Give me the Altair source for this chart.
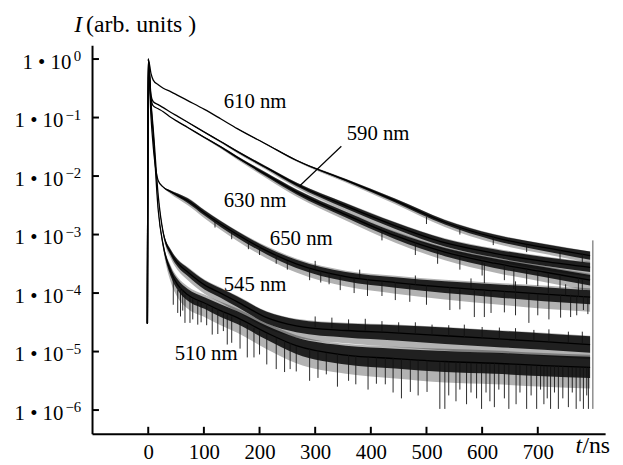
import altair as alt
import pandas as pd

# time knots (ns) shared by all traces
T = [-1.5, 0, 5, 9, 18, 27, 41, 53, 71, 101, 130, 160, 213, 266, 355, 444, 533, 622, 711, 794]

# centre of each trace, log10(I)
LOG_610 = [-4.52, 0, -0.25, -0.36, -0.44, -0.50, -0.56, -0.62, -0.71, -0.86, -1.02, -1.19, -1.46, -1.73, -2.07, -2.42, -2.79, -3.05, -3.22, -3.36]
LOG_590 = [-4.52, 0, -0.62, -0.73, -0.78, -0.83, -0.915, -0.98, -1.08, -1.25, -1.41, -1.58, -1.86, -2.14, -2.51, -2.85, -3.14, -3.32, -3.46, -3.56]
LOG_630 = [-4.52, 0, -0.68, -0.80, -0.85, -0.90, -1.00, -1.07, -1.17, -1.34, -1.50, -1.68, -1.98, -2.27, -2.66, -3.02, -3.30, -3.49, -3.64, -3.78]
LOG_650 = [-4.52, 0, -1.00, -1.50, -2.08, -2.19, -2.27, -2.33, -2.42, -2.63, -2.82, -3.00, -3.28, -3.50, -3.72, -3.82, -3.90, -3.96, -4.02, -4.07]
LOG_545 = [-4.52, 0, -0.75, -1.20, -2.34, -2.97, -3.32, -3.49, -3.64, -3.86, -4.00, -4.15, -4.42, -4.56, -4.64, -4.68, -4.73, -4.78, -4.83, -4.88]
LOG_510 = [-4.52, 0, -0.80, -1.30, -2.59, -3.19, -3.65, -3.86, -4.03, -4.17, -4.30, -4.42, -4.68, -4.90, -5.06, -5.12, -5.17, -5.20, -5.24, -5.27]

# half width of the dense noise core (decades)
W_610 = [0, 0, 0, 0, 0, 0, 0, 0, 0, 0, 0, 0.003, 0.006, 0.01, 0.02, 0.03, 0.04, 0.05, 0.06, 0.07]
W_590 = [0, 0, 0, 0, 0, 0, 0, 0, 0.003, 0.006, 0.01, 0.015, 0.02, 0.03, 0.045, 0.055, 0.065, 0.07, 0.075, 0.08]
W_630 = [0, 0, 0, 0, 0, 0, 0, 0.003, 0.006, 0.01, 0.015, 0.02, 0.03, 0.04, 0.05, 0.06, 0.07, 0.08, 0.085, 0.09]
W_650 = [0, 0, 0, 0, 0, 0.005, 0.02, 0.03, 0.04, 0.045, 0.05, 0.055, 0.06, 0.07, 0.08, 0.09, 0.10, 0.11, 0.12, 0.12]
W_545 = [0, 0, 0, 0, 0.01, 0.03, 0.05, 0.06, 0.07, 0.08, 0.08, 0.09, 0.10, 0.11, 0.12, 0.13, 0.14, 0.14, 0.14, 0.14]
W_510 = [0, 0, 0, 0, 0.02, 0.04, 0.08, 0.09, 0.10, 0.10, 0.11, 0.11, 0.12, 0.14, 0.16, 0.17, 0.18, 0.18, 0.18, 0.18]

# extent of the sparser noise fringe below the trace (decades)
S_610 = [0, 0, 0, 0, 0, 0, 0, 0, 0, 0, 0, 0.006, 0.012, 0.02, 0.04, 0.06, 0.08, 0.10, 0.11, 0.12]
S_590 = [0, 0, 0, 0, 0, 0, 0, 0, 0.006, 0.012, 0.02, 0.03, 0.04, 0.06, 0.09, 0.11, 0.13, 0.14, 0.15, 0.16]
S_630 = [0, 0, 0, 0, 0, 0, 0, 0.006, 0.012, 0.02, 0.03, 0.04, 0.06, 0.08, 0.10, 0.12, 0.14, 0.16, 0.17, 0.18]
S_650 = [0, 0, 0, 0, 0, 0.01, 0.04, 0.06, 0.08, 0.09, 0.10, 0.11, 0.13, 0.15, 0.17, 0.19, 0.21, 0.23, 0.25, 0.25]
S_545 = [0, 0, 0, 0, 0.02, 0.06, 0.10, 0.12, 0.14, 0.15, 0.16, 0.17, 0.18, 0.20, 0.22, 0.24, 0.25, 0.25, 0.25, 0.25]
S_510 = [0, 0, 0, 0, 0.04, 0.08, 0.18, 0.22, 0.24, 0.24, 0.25, 0.26, 0.28, 0.30, 0.32, 0.34, 0.36, 0.36, 0.36, 0.36]

# single noise spikes: time, log10 start, log10 end
SPIKE_T = [
    # 510 nm
    45, 53, 58, 62, 66, 75, 80, 89, 95, 105, 115, 125, 135, 142, 150, 165, 178, 190, 200, 213, 230, 245,
    255, 266, 290, 305, 320, 340, 360, 373, 395, 410, 426, 440, 455, 471, 485, 501, 524, 533, 540, 553,
    560, 572, 580, 590, 599, 607, 614, 622, 630, 640, 648, 661, 668, 680, 688, 698, 705, 711, 717, 723,
    730, 737, 745, 755, 762, 769, 776, 782, 788, 791,
    # 545 nm (upward)
    300, 330, 360, 390, 420, 450, 480, 510, 540, 568, 600, 631, 660, 693, 720, 755, 780,
    # 650 nm
    120, 150, 180, 200, 230, 250, 290, 310, 325, 345, 370, 394, 420, 444, 470, 500, 542, 560, 586, 604,
    616, 640, 660, 684, 700, 720, 741, 759, 770, 782, 790,
    300, 380, 480, 580, 660, 750,
    # 590 / 630 nm
    420, 480, 520, 560, 600, 604, 640, 657, 680, 700, 719, 740, 773, 780,
    # 610 nm
    500, 560, 620, 680, 740, 780,
]
SPIKE_TOP = [
    -3.75, -3.95, -3.90, -3.93, -4.03, -4.07, -4.08, -4.12, -4.15, -4.18, -4.25, -4.27, -4.31, -4.37, -4.40, -4.47, -4.54, -4.60, -4.64, -4.68, -4.76, -4.82,
    -4.85, -4.90, -4.95, -4.98, -5.02, -5.04, -5.06, -5.07, -5.09, -5.10, -5.10, -5.11, -5.12, -5.14, -5.15, -5.15, -5.17, -5.17, -5.17, -5.18,
    -5.18, -5.19, -5.19, -5.20, -5.20, -5.20, -5.20, -5.20, -5.21, -5.21, -5.22, -5.22, -5.22, -5.23, -5.23, -5.24, -5.24, -5.24, -5.24, -5.25,
    -5.25, -5.25, -5.25, -5.26, -5.26, -5.27, -5.27, -5.27, -5.27, -5.27,
    -4.58, -4.60, -4.63, -4.64, -4.66, -4.68, -4.70, -4.72, -4.74, -4.76, -4.78, -4.80, -4.81, -4.83, -4.84, -4.86, -4.87,
    -2.75, -2.95, -3.10, -3.20, -3.35, -3.45, -3.58, -3.62, -3.64, -3.70, -3.74, -3.76, -3.80, -3.81, -3.85, -3.87, -3.90, -3.92, -3.93, -3.95,
    -3.95, -3.97, -3.98, -4.00, -4.01, -4.02, -4.03, -4.03, -4.05, -4.05, -4.07,
    -3.60, -3.75, -3.86, -3.93, -3.98, -4.04,
    -2.92, -3.13, -3.27, -3.36, -3.44, -3.49, -3.52, -3.59, -3.59, -3.62, -3.66, -3.69, -3.74, -3.76,
    -2.70, -2.88, -3.04, -3.17, -3.26, -3.33,
]
SPIKE_BOT = [
    -4.20, -4.34, -4.40, -4.30, -4.51, -4.51, -4.45, -4.54, -4.50, -4.55, -4.71, -4.70, -4.65, -4.88, -4.85, -4.95, -5.10, -5.10, -5.05, -5.22, -5.30, -5.35,
    -5.30, -5.34, -5.50, -5.45, -5.39, -5.60, -5.50, -5.56, -5.65, -5.55, -5.56, -5.70, -5.80, -5.69, -5.75, -5.69, -5.98, -5.98, -5.75, -5.85,
    -5.65, -5.90, -5.70, -5.80, -5.98, -5.70, -5.85, -5.95, -5.65, -5.80, -5.98, -5.90, -5.70, -5.98, -5.75, -5.98, -5.65, -5.90, -5.80, -5.98,
    -5.70, -5.98, -5.80, -5.95, -5.70, -5.98, -5.85, -5.98, -5.75, -5.98,
    -4.40, -4.42, -4.45, -4.44, -4.48, -4.50, -4.50, -4.54, -4.55, -4.54, -4.58, -4.59, -4.60, -4.63, -4.62, -4.66, -4.66,
    -2.88, -3.08, -3.25, -3.35, -3.50, -3.60, -3.78, -3.82, -3.85, -3.95, -4.00, -4.05, -4.05, -4.12, -4.15, -4.20, -4.29, -4.28, -4.41, -4.41,
    -4.34, -4.33, -4.38, -4.51, -4.38, -4.45, -4.42, -4.41, -4.38, -4.29, -4.36,
    -3.45, -3.60, -3.70, -3.75, -3.80, -3.85,
    -3.10, -3.35, -3.50, -3.60, -3.70, -3.83, -3.78, -3.93, -3.85, -3.88, -4.00, -3.92, -4.07, -3.95,
    -2.82, -3.00, -3.18, -3.30, -3.42, -3.48,
]

LABEL_TEXT = ["610 nm", "590 nm", "630 nm", "650 nm", "545 nm", "510 nm"]
LABEL_T = [192, 413, 192, 275, 192, 104]
LABEL_LOG = [-0.73, -1.29, -2.42, -3.07, -3.86, -5.05]

LEADER_T = [272, 347]
LEADER_LOG = [-2.17, -1.49]

END_T = 799
END_LOG = [-3.10, -5.98]

X_TICKS = [0, 100, 200, 300, 400, 500, 600, 700]
Y_TICKS = [1, 1e-1, 1e-2, 1e-3, 1e-4, 1e-5, 1e-6]
Y_SUP = ["0", "\u22121", "\u22122", "\u22123", "\u22124", "\u22125", "\u22126"]

FONT = "Liberation Serif"
W, H = 519, 393

curves = [
    ("610", LOG_610, W_610, S_610),
    ("590", LOG_590, W_590, S_590),
    ("630", LOG_630, W_630, S_630),
    ("650", LOG_650, W_650, S_650),
    ("545", LOG_545, W_545, S_545),
    ("510", LOG_510, W_510, S_510),
]
rows = []
for name, m, w, s in curves:
    for t, mi, wi, si in zip(T, m, w, s):
        rows.append({
            "curve": name, "t": t,
            "mid": 10 ** mi,
            "lo": 10 ** (mi - wi), "hi": 10 ** (mi + wi),
            "olo": 10 ** (mi - si), "ohi": 10 ** (mi + 0.6 * si),
        })
df = pd.DataFrame(rows)

xs = alt.Scale(domain=[-101, 821], nice=False, zero=False)
ys = alt.Scale(type="log", domain=[3.94e-7, 1.724], nice=False)

x_axis = alt.Axis(values=X_TICKS, ticks=False, grid=False, domainColor="black",
                  domainWidth=2, labelFont=FONT, labelFontSize=21, labelColor="black",
                  labelPadding=8, title=None, labelFlush=False)
y_axis = alt.Axis(values=Y_TICKS, ticks=False, grid=False, domainColor="black",
                  domainWidth=2, labels=False, title=None)

base = alt.Chart(df)
outer = base.mark_area(color="black", opacity=0.3, interpolate="monotone").encode(
    x=alt.X("t:Q", scale=xs, axis=x_axis),
    y=alt.Y("olo:Q", scale=ys, axis=y_axis),
    y2="ohi:Q", detail="curve:N")
inner = base.mark_area(color="black", opacity=0.82, interpolate="monotone").encode(
    x=alt.X("t:Q", scale=xs), y=alt.Y("lo:Q", scale=ys), y2="hi:Q", detail="curve:N")
lines = base.mark_line(color="black", strokeWidth=1.3, interpolate="monotone").encode(
    x=alt.X("t:Q", scale=xs), y=alt.Y("mid:Q", scale=ys), detail="curve:N")

spk_df = pd.DataFrame({"t": SPIKE_T, "a": [10 ** v for v in SPIKE_TOP],
                       "b": [10 ** v for v in SPIKE_BOT]})
spikes = alt.Chart(spk_df).mark_rule(color="#111", strokeWidth=0.9).encode(
    x=alt.X("t:Q", scale=xs), y=alt.Y("a:Q", scale=ys), y2="b:Q")

lab_df = pd.DataFrame({"text": LABEL_TEXT, "t": LABEL_T, "v": [10 ** v for v in LABEL_LOG]})
labels = alt.Chart(lab_df).mark_text(font=FONT, fontSize=21, color="black",
                                     align="center", baseline="middle").encode(
    x=alt.X("t:Q", scale=xs), y=alt.Y("v:Q", scale=ys), text="text:N")

lead_df = pd.DataFrame({"t": [LEADER_T[0]], "t2": [LEADER_T[1]],
                        "v": [10 ** LEADER_LOG[0]], "v2": [10 ** LEADER_LOG[1]]})
leader = alt.Chart(lead_df).mark_rule(color="black", strokeWidth=1.2).encode(
    x=alt.X("t:Q", scale=xs), x2="t2:Q", y=alt.Y("v:Q", scale=ys), y2="v2:Q")

end_df = pd.DataFrame({"t": [END_T], "v": [10 ** END_LOG[0]], "v2": [10 ** END_LOG[1]]})
endline = alt.Chart(end_df).mark_rule(color="#555", strokeWidth=1).encode(
    x=alt.X("t:Q", scale=xs), y=alt.Y("v:Q", scale=ys), y2="v2:Q")

yt_df = pd.DataFrame({"v": Y_TICKS, "sup": Y_SUP, "base": ["1 \u2022 10"] * len(Y_TICKS)})
yticks = alt.Chart(yt_df).mark_rule(color="black", strokeWidth=2).encode(
    y=alt.Y("v:Q", scale=ys), x=alt.value(0), x2=alt.value(7))
ysup = alt.Chart(yt_df).mark_text(font=FONT, fontSize=15, color="black", align="right",
                                  baseline="alphabetic", dy=2).encode(
    y=alt.Y("v:Q", scale=ys), x=alt.value(-11), text="sup:N")
ybase0 = alt.Chart(yt_df.iloc[:1]).mark_text(font=FONT, fontSize=21, color="black", align="right",
                                             baseline="alphabetic", dy=10).encode(
    y=alt.Y("v:Q", scale=ys), x=alt.value(-21), text="base:N")
ybase = alt.Chart(yt_df.iloc[1:]).mark_text(font=FONT, fontSize=21, color="black", align="right",
                                            baseline="alphabetic", dy=10).encode(
    y=alt.Y("v:Q", scale=ys), x=alt.value(-29), text="base:N")

xt_df = pd.DataFrame({"t": X_TICKS})
xticks = alt.Chart(xt_df).mark_rule(color="black", strokeWidth=2).encode(
    x=alt.X("t:Q", scale=xs), y=alt.value(H), y2=alt.value(H - 7))

def txt(s, x, y, italic=False, size=24):
    return alt.Chart(pd.DataFrame({"s": [s]})).mark_text(
        font=FONT, fontSize=size, color="black", align="left", baseline="alphabetic",
        fontStyle="italic" if italic else "normal").encode(
        text="s:N", x=alt.value(x), y=alt.value(y))

titles = [
    txt("I", -18, -13, True),
    txt("(arb. units )", -6, -13),
    txt("t", 489, 413, True),
    txt("/ns", 496, 413),
]

chart = alt.layer(outer, inner, lines, spikes, leader, endline, yticks, ysup, ybase0, ybase,
                  xticks, labels, *titles).properties(
    width=W, height=H,
    autosize=alt.AutoSizeParams(type="none"),
    padding={"left": 85, "top": 35, "right": 10, "bottom": 29},
).configure_view(stroke=None)

chart.save("out.html", embed_options={"renderer": "svg", "actions": False})
